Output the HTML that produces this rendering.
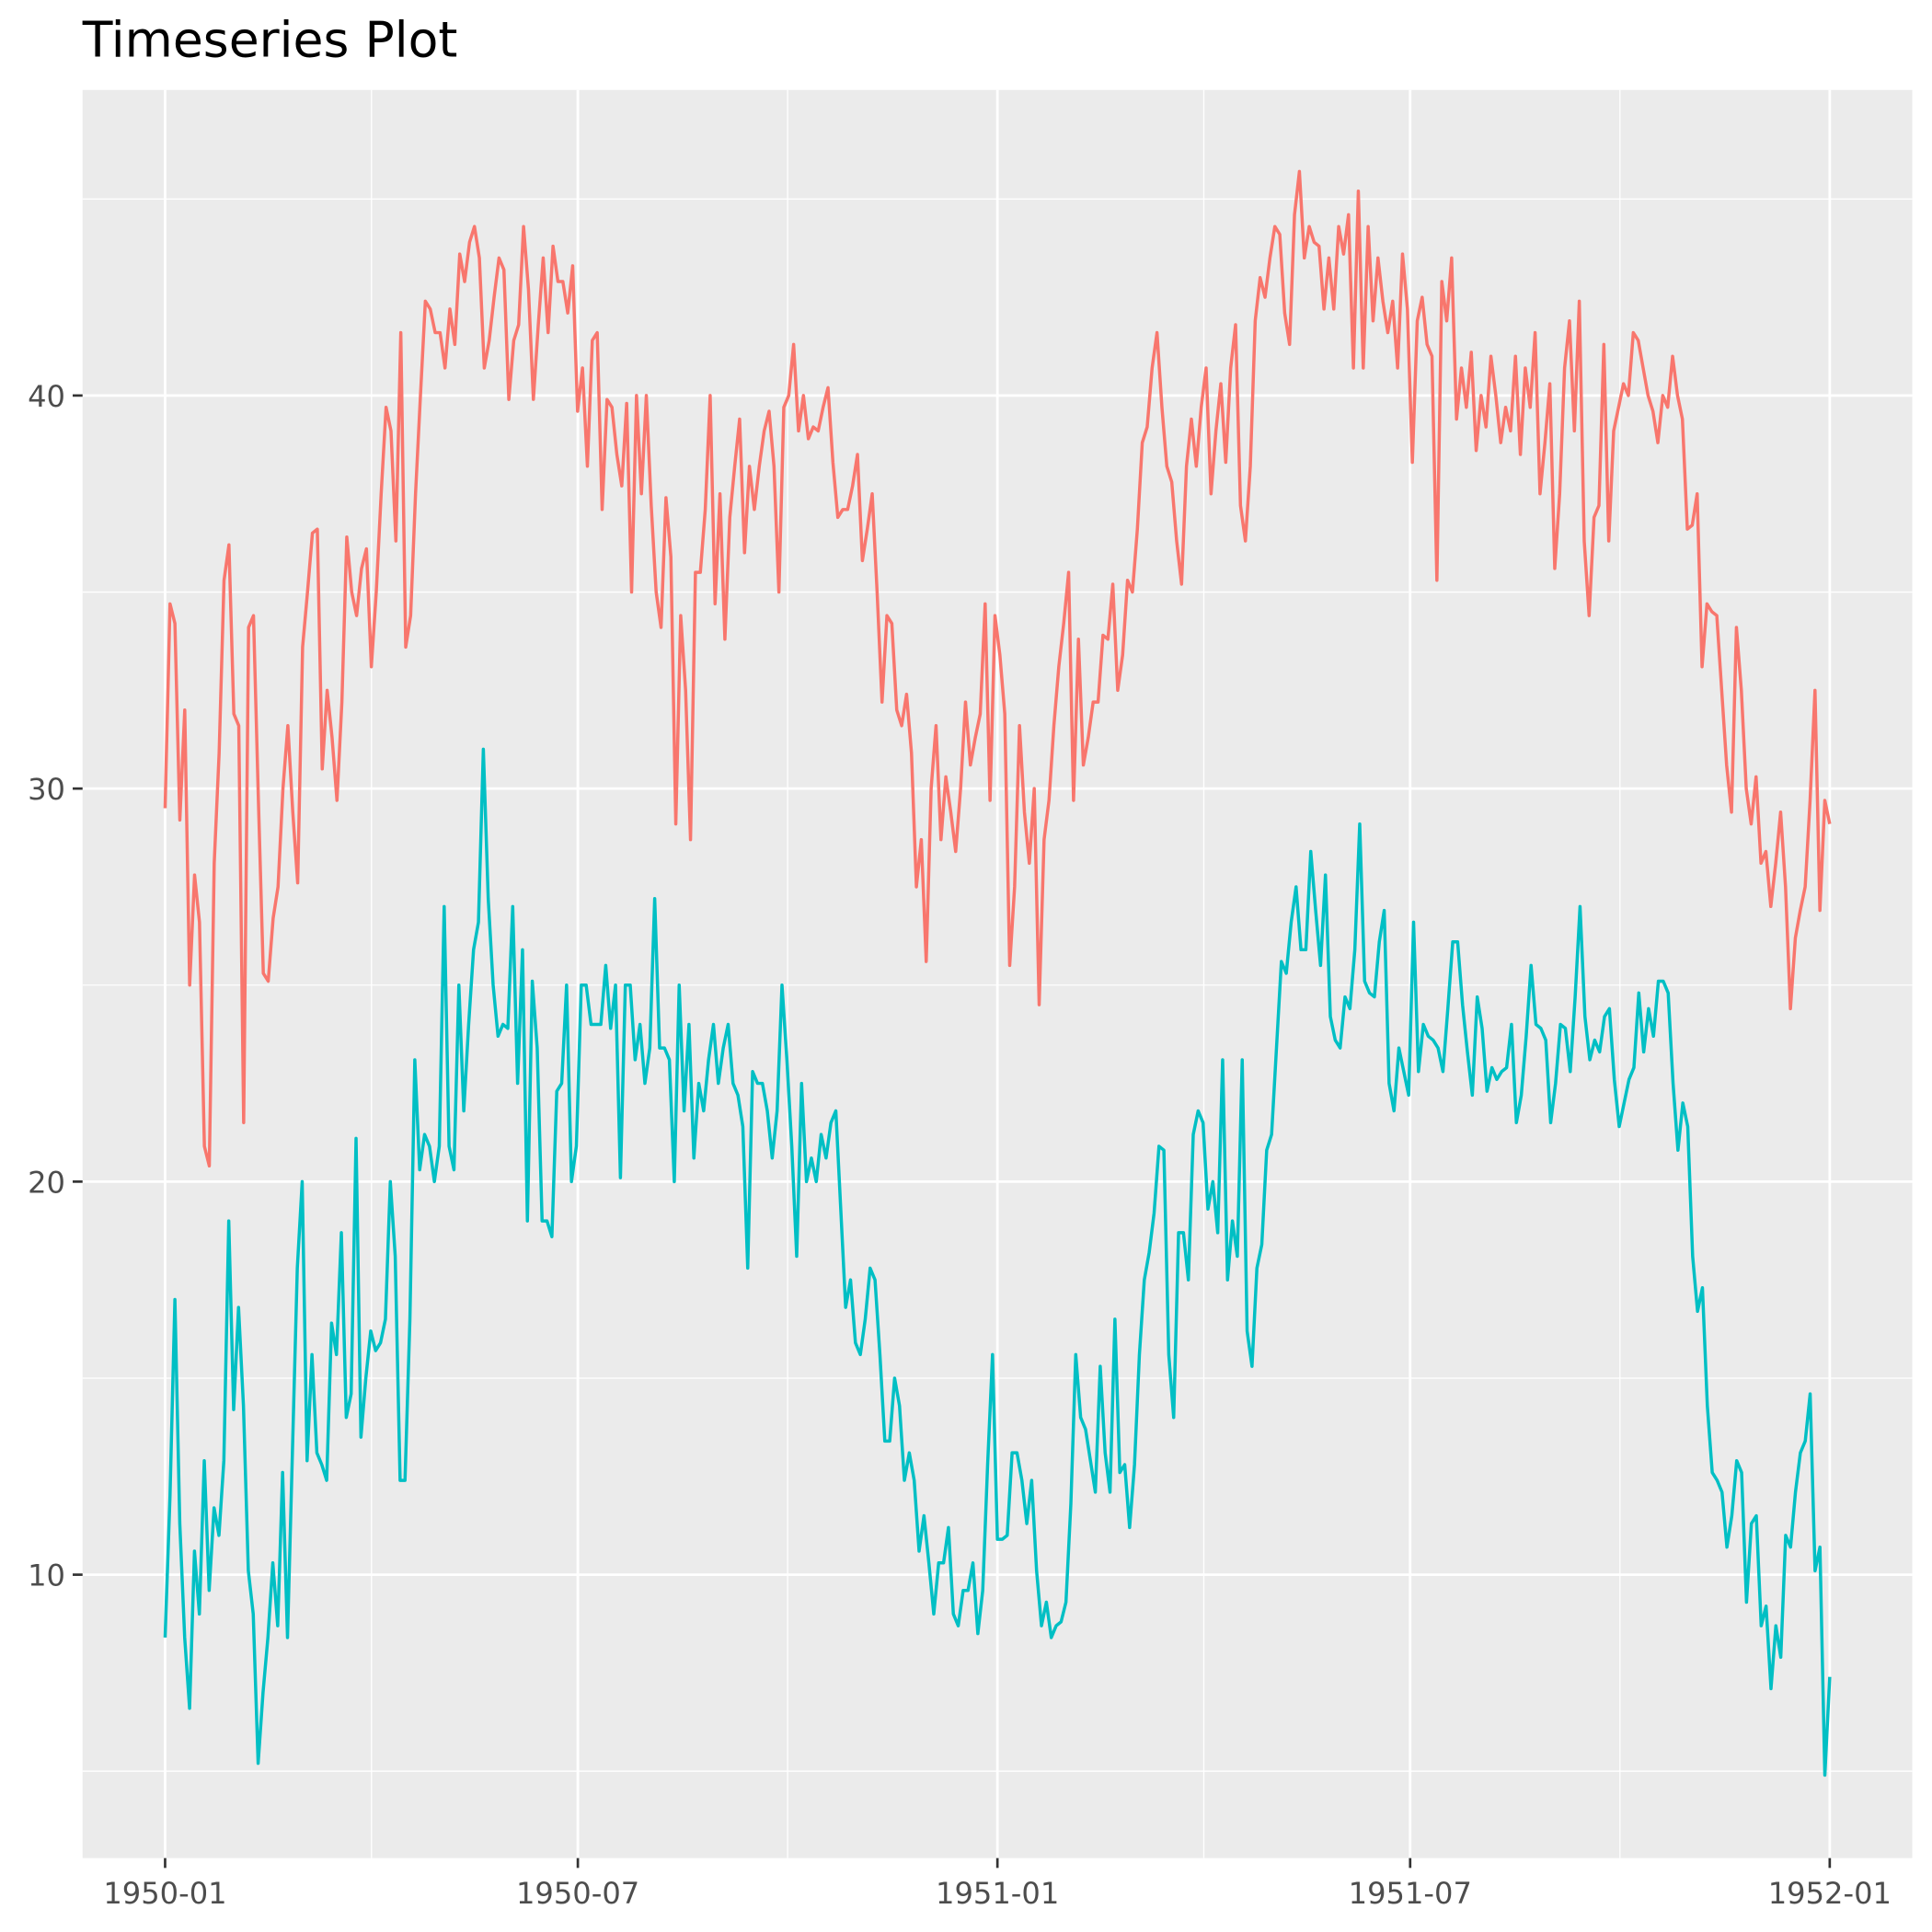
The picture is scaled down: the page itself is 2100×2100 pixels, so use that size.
<!DOCTYPE html>
<html><head><meta charset="utf-8"><style>
html,body{margin:0;padding:0;background:#fff;}
svg{display:block;font-family:"DejaVu Sans","Liberation Sans",sans-serif;}
</style></head><body>
<svg id="chart" width="2100" height="2100" viewBox="0 0 1568 1568" xmlns="http://www.w3.org/2000/svg">
<rect x="0" y="0" width="1568" height="1568" fill="#fff"/>
<text x="67" y="46" font-size="40" fill="#000">Timeseries Plot</text>
<rect x="67" y="73" width="1485" height="1435" fill="#EBEBEB"/>
<g id="grid"></g>
<g id="axes"></g>
<g id="series"></g>
</svg>
<script>
const xTickDays = [0, 181, 365, 546, 730];
const xTickLabels = ["1950-01", "1950-07", "1951-01", "1951-07", "1952-01"];
const xMinorDays = [90.5, 273, 455.5, 638];
const yTicks = [10, 20, 30, 40];
const yTickLabels = ["10", "20", "30", "40"];
const yMinor = [5, 15, 25, 35, 45];
const totalDays = 730;

const seriesA = [29.5,34.7,34.2,29.2,32.0,25.0,27.8,26.6,20.9,20.4,28.1,30.9,35.3,36.2,31.9,31.6,21.5,34.1,34.4,29.7,25.3,25.1,26.7,27.5,30.0,31.6,29.4,27.6,33.6,35.0,36.5,36.6,30.5,32.5,31.3,29.7,32.2,36.4,35.0,34.4,35.6,36.1,33.1,35.0,37.5,39.7,39.1,36.3,41.6,33.6,34.4,37.5,40.0,42.4,42.2,41.6,41.6,40.7,42.2,41.3,43.6,42.9,43.9,44.3,43.5,40.7,41.4,42.5,43.5,43.2,39.9,41.4,41.8,44.3,42.7,39.9,41.8,43.5,41.6,43.8,42.9,42.9,42.1,43.3,39.6,40.7,38.2,41.4,41.6,37.1,39.9,39.7,38.5,37.7,39.8,35.0,40.0,37.5,40.0,37.2,35.0,34.1,37.4,35.9,29.1,34.4,32.5,28.7,35.5,35.5,37.1,40.0,34.7,37.5,33.8,36.9,38.2,39.4,36.0,38.2,37.1,38.2,39.1,39.6,38.2,35.0,39.7,40.0,41.3,39.1,40.0,38.9,39.2,39.1,39.7,40.2,38.3,36.9,37.1,37.1,37.7,38.5,35.8,36.6,37.5,35.0,32.2,34.4,34.2,32.0,31.6,32.4,30.9,27.5,28.7,25.6,30.0,31.6,28.7,30.3,29.4,28.4,30.0,32.2,30.6,31.3,31.9,34.7,29.7,34.4,33.4,31.9,25.5,27.5,31.6,29.4,28.1,30.0,24.5,28.7,29.7,31.6,33.1,34.2,35.5,29.7,33.8,30.6,31.3,32.2,32.2,33.9,33.8,35.2,32.5,33.4,35.3,35.0,36.6,38.8,39.2,40.7,41.6,39.7,38.2,37.8,36.3,35.2,38.2,39.4,38.2,39.7,40.7,37.5,39.1,40.3,38.3,40.7,41.8,37.2,36.3,38.2,41.9,43.0,42.5,43.5,44.3,44.1,42.1,41.3,44.6,45.7,43.5,44.3,43.9,43.8,42.2,43.5,42.2,44.3,43.6,44.6,40.7,45.2,40.7,44.3,41.9,43.5,42.4,41.6,42.4,40.7,43.6,42.2,38.3,41.9,42.5,41.3,41.0,35.3,42.9,41.9,43.5,39.4,40.7,39.7,41.1,38.6,40.0,39.2,41.0,40.0,38.8,39.7,39.1,41.0,38.5,40.7,39.7,41.6,37.5,38.8,40.3,35.6,37.5,40.7,41.9,39.1,42.4,36.3,34.4,36.9,37.2,41.3,36.3,39.1,39.7,40.3,40.0,41.6,41.4,40.7,40.0,39.6,38.8,40.0,39.7,41.0,40.0,39.4,36.6,36.7,37.5,33.1,34.7,34.5,34.4,32.5,30.6,29.4,34.1,32.5,30.0,29.1,30.3,28.1,28.4,27.0,28.1,29.4,27.5,24.4,26.2,26.9,27.5,29.7,32.5,26.9,29.7,29.1];

const seriesB = [8.4,12.0,17.0,11.3,8.4,6.6,10.6,9.0,12.9,9.6,11.7,11.0,12.9,19.0,14.2,16.8,14.3,10.1,9.0,5.2,7.0,8.4,10.3,8.7,12.6,8.4,13.1,17.8,20.0,12.9,15.6,13.1,12.8,12.4,16.4,15.6,18.7,14.0,14.6,21.1,13.5,15.0,16.2,15.7,15.9,16.5,20.0,18.1,12.4,12.4,16.5,23.1,20.3,21.2,20.9,20.0,20.9,27.0,20.9,20.3,25.0,21.8,24.0,25.9,26.6,31.0,27.2,25.0,23.7,24.0,23.9,27.0,22.5,25.9,19.0,25.1,23.4,19.0,19.0,18.6,22.3,22.5,25.0,20.0,20.9,25.0,25.0,24.0,24.0,24.0,25.5,23.9,25.0,20.1,25.0,25.0,23.1,24.0,22.5,23.4,27.2,23.4,23.4,23.1,20.0,25.0,21.8,24.0,20.6,22.5,21.8,23.1,24.0,22.5,23.4,24.0,22.5,22.2,21.4,17.8,22.8,22.5,22.5,21.8,20.6,21.8,25.0,23.1,20.9,18.1,22.5,20.0,20.6,20.0,21.2,20.6,21.5,21.8,19.3,16.8,17.5,15.9,15.6,16.5,17.8,17.5,15.6,13.4,13.4,15.0,14.3,12.4,13.1,12.4,10.6,11.5,10.3,9.0,10.3,10.3,11.2,9.0,8.7,9.6,9.6,10.3,8.5,9.6,12.8,15.6,10.9,10.9,11.0,13.1,13.1,12.4,11.3,12.4,10.1,8.7,9.3,8.4,8.7,8.8,9.3,11.8,15.6,14.0,13.7,12.9,12.1,15.3,13.1,12.1,16.5,12.6,12.8,11.2,12.8,15.6,17.5,18.2,19.2,20.9,20.8,15.6,14.0,18.7,18.7,17.5,21.2,21.8,21.5,19.3,20.0,18.7,23.1,17.5,19.0,18.1,23.1,16.2,15.3,17.8,18.4,20.8,21.2,23.4,25.6,25.3,26.6,27.5,25.9,25.9,28.4,26.9,25.5,27.8,24.2,23.6,23.4,24.7,24.4,25.9,29.1,25.1,24.8,24.7,26.1,26.9,22.5,21.8,23.4,22.8,22.2,26.6,22.8,24.0,23.7,23.6,23.4,22.8,24.4,26.1,26.1,24.5,23.3,22.2,24.7,23.9,22.3,22.9,22.6,22.8,22.9,24.0,21.5,22.2,23.7,25.5,24.0,23.9,23.6,21.5,22.5,24.0,23.9,22.8,24.7,27.0,24.2,23.1,23.6,23.3,24.2,24.4,22.6,21.4,22.0,22.6,22.9,24.8,23.3,24.4,23.7,25.1,25.1,24.8,22.5,20.8,22.0,21.4,18.1,16.7,17.3,14.3,12.6,12.4,12.1,10.7,11.5,12.9,12.6,9.3,11.3,11.5,8.7,9.2,7.1,8.7,7.9,11.0,10.7,12.1,13.1,13.4,14.6,10.1,10.7,4.9,7.4];

const NS = "http://www.w3.org/2000/svg";
const PX0 = 134, PX1 = 1485, PL = 67, PR = 1552, PT = 73, PB = 1508;
function xScale(d){ return PX0 + (d/totalDays)*(PX1-PX0); }
function yScale(v){ return 321 + (40 - v)*31.9; }
function mk(tag, attrs, parent){
  const e = document.createElementNS(NS, tag);
  for (const k in attrs) e.setAttribute(k, attrs[k]);
  parent.appendChild(e);
  return e;
}
const grid = document.getElementById('grid');
const axes = document.getElementById('axes');
const seriesG = document.getElementById('series');

yMinor.forEach(v => {
  const l = mk('line', {x1:PL, x2:PR, y1:yScale(v), y2:yScale(v), stroke:'#fff', 'stroke-width':1}, grid);
  
  
});
xMinorDays.forEach(d => {
  const l = mk('line', {x1:xScale(d), x2:xScale(d), y1:PT, y2:PB, stroke:'#fff', 'stroke-width':1}, grid);
  
  
});
yTicks.forEach((v, i) => {
  const y = yScale(v);
  const l = mk('line', {x1:PL, x2:PR, y1:y, y2:y, stroke:'#fff', 'stroke-width':2.1}, grid);
  
  
  const t = mk('line', {x1:PL-8, x2:PL, y1:y, y2:y, stroke:'#333', 'stroke-width':2}, axes);
  
  
  const tx = mk('text', {x:PL-14, y:y+9, 'text-anchor':'end', 'font-size':24, fill:'#4D4D4D'}, axes);
  tx.textContent = yTickLabels[i];
  
  
});
xTickDays.forEach((d, i) => {
  const x = xScale(d);
  const l = mk('line', {x1:x, x2:x, y1:PT, y2:PB, stroke:'#fff', 'stroke-width':2.1}, grid);
  
  
  const t = mk('line', {x1:x, x2:x, y1:PB, y2:PB+8, stroke:'#333', 'stroke-width':2}, axes);
  
  
  const tx = mk('text', {x:x, y:PB+37, 'text-anchor':'middle', 'font-size':24, fill:'#4D4D4D'}, axes);
  tx.textContent = xTickLabels[i];
  
  
});
function drawSeries(vals, color, name){
  const n = vals.length;
  const pts = vals.map((v, i) => xScale(i*totalDays/(n-1)).toFixed(2) + ',' + yScale(v).toFixed(2)).join(' ');
  const p = mk('polyline', {points:pts, fill:'none', stroke:color, 'stroke-width':2.6, 'stroke-linejoin':'round'}, seriesG);
  
  
}
drawSeries(seriesA, '#F8766D', 'series-red-line');
drawSeries(seriesB, '#00BFC4', 'series-teal-line');
</script>
</body></html>
